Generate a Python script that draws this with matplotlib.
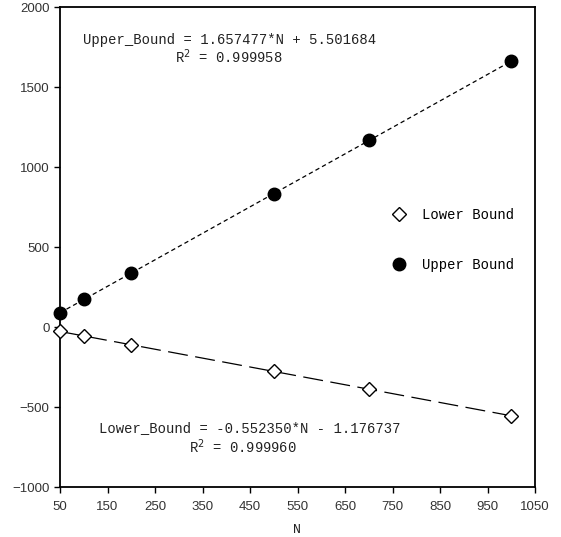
import numpy as np
import matplotlib
matplotlib.use("Agg")
import matplotlib.pyplot as plt

# values
n_values = [50, 100, 200, 500, 700, 1000]
lower_bound = [-27, -56, -112, -278, -388, -555]
upper_bound = [87, 173, 337, 834, 1166, 1660]

x_ticks = [50, 150, 250, 350, 450, 550, 650, 750, 850, 950, 1050]
y_ticks = [-1000, -500, 0, 500, 1000, 1500, 2000]

upper_eq = "Upper_Bound = 1.657477*N + 5.501684"
upper_r2 = "R$^2$ = 0.999958"
lower_eq = "Lower_Bound = -0.552350*N - 1.176737"
lower_r2 = "R$^2$ = 0.999960"

mono = "Liberation Mono"
sans = "Liberation Sans"


def make_plot():
    fig = plt.figure(figsize=(5.61, 5.37), dpi=100)
    ax = fig.add_axes([60 / 561, 1 - 487 / 537, 475 / 561, 480 / 537])

    # fitted trend lines through the read points
    n = np.array(n_values, dtype=float)
    xs = np.array([n.min(), n.max()])
    pu = np.polyfit(n, upper_bound, 1)
    pl = np.polyfit(n, lower_bound, 1)
    ax.plot(xs, np.polyval(pu, xs), color="black", lw=0.9,
            dashes=(3.5, 2.5), zorder=2)
    ax.plot(xs, np.polyval(pl, xs), color="black", lw=0.9,
            dashes=(16, 6), zorder=2)

    ax.plot(n_values, lower_bound, linestyle="none", marker="D",
            markersize=7, markerfacecolor="white", markeredgecolor="black",
            markeredgewidth=1.0, label="Lower Bound", zorder=3,
            clip_on=False)
    ax.plot(n_values, upper_bound, linestyle="none", marker="o",
            markersize=9, markerfacecolor="black", markeredgecolor="black",
            label="Upper Bound", zorder=3, clip_on=False)

    ax.set_xlim(50, 1050)
    ax.set_ylim(-1000, 2000)
    ax.set_xticks(x_ticks)
    ax.set_yticks(y_ticks)
    ax.tick_params(direction="out", length=4, width=1, colors="black",
                   labelcolor="#333333")
    for lab in ax.get_xticklabels() + ax.get_yticklabels():
        lab.set_fontfamily(sans)
        lab.set_fontsize(9.5)
    ax.tick_params(axis="x", pad=6)
    for sp in ax.spines.values():
        sp.set_linewidth(1.3)

    ax.set_xlabel("N", family=mono, fontsize=9.5, color="#222222", labelpad=8)

    ax.text(98, 1794, upper_eq, family=mono, fontsize=10, va="center",
            color="#222222")
    ax.text(292, 1687, upper_r2, family=mono, fontsize=10, va="center",
            color="#222222")
    ax.text(132, -631, lower_eq, family=mono, fontsize=10, va="center",
            color="#222222")
    ax.text(322, -750, lower_r2, family=mono, fontsize=10, va="center",
            color="#222222")

    ax.legend(loc="upper left", bbox_to_anchor=(0.672, 0.607), frameon=False,
              prop={"family": mono, "size": 10}, labelspacing=2.55,
              handlelength=1.0, handletextpad=1.2)

    fig.savefig("out.png", dpi=100)


if __name__ == "__main__":
    make_plot()
